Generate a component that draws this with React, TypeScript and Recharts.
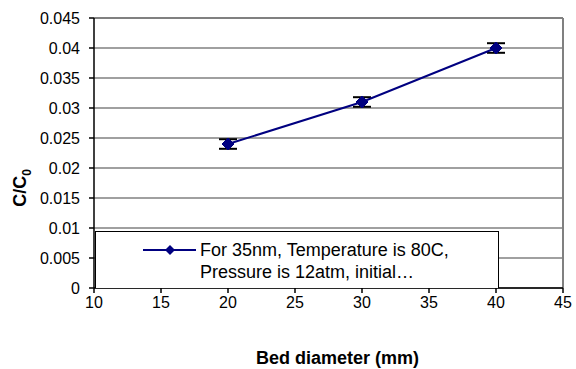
import * as React from 'react';
import {
  LineChart,
  Line,
  XAxis,
  YAxis,
  CartesianGrid,
  ErrorBar,
  ReferenceLine,
  Label,
} from 'recharts';

if (typeof document !== 'undefined') document.body.style.margin = '0';

const diameters = [20, 30, 40];
const ratios = [0.024, 0.031, 0.04];
const errors = [0.0008, 0.0008, 0.0008];
const xTicks = [10, 15, 20, 25, 30, 35, 40, 45];
const yTicks = [0, 0.005, 0.01, 0.015, 0.02, 0.025, 0.03, 0.035, 0.04, 0.045];
const seriesName = ['For 35nm, Temperature is 80C,', 'Pressure is 12atm, initial…'];

const data = diameters.map((d, i) => ({ d, v: ratios[i], err: errors[i] }));

const NAVY = '#000080';
const FONT = '"Liberation Sans", Arial, sans-serif';

function Diamond(props: any) {
  const { cx, cy } = props;
  if (cx == null || cy == null) return null;
  const r = 6;
  return (
    <path
      d={`M${cx},${cy - r}L${cx + r},${cy}L${cx},${cy + r}L${cx - r},${cy}Z`}
      fill={NAVY}
      stroke={NAVY}
    />
  );
}

function YTitle() {
  return (
    <text
      transform="translate(26,188) rotate(-90)"
      textAnchor="middle"
      fontFamily={FONT}
      fontWeight="bold"
      fontSize={18}
      fill="#000"
    >
      C/C
      <tspan fontSize={12} dy={5}>
        0
      </tspan>
    </text>
  );
}

// series legend, drawn over the lower part of the plot like the original
function LegendBox() {
  return (
    <div
      style={{
        position: 'absolute',
        left: 95,
        top: 231,
        width: 404,
        height: 57,
        border: '1px solid #000',
        borderBottom: 'none',
        background: '#fff',
        boxSizing: 'border-box',
        fontFamily: FONT,
        fontSize: 18,
        color: '#000',
      }}
    >
      <svg width={56} height={14} style={{ position: 'absolute', left: 46, top: 11 }}>
        <line x1={1} y1={7} x2={54} y2={7} stroke={NAVY} strokeWidth={2} />
        <path d="M28,2L33,7L28,12L23,7Z" fill={NAVY} />
      </svg>
      <div style={{ position: 'absolute', left: 104, top: 7, lineHeight: '22px', whiteSpace: 'nowrap' }}>
        {seriesName.map((s) => (
          <div key={s}>{s}</div>
        ))}
      </div>
    </div>
  );
}

export default function App() {
  return (
    <div style={{ width: 576, height: 369, background: '#fff', position: 'relative' }}>
      <LineChart
        width={576}
        height={369}
        data={data}
        margin={{ top: 18, right: 13, bottom: 51, left: 0 }}
      >
        <CartesianGrid vertical={false} stroke="#808080" strokeWidth={1.5} />
        <ReferenceLine y={0.045} stroke="#808080" strokeWidth={2} />
        <ReferenceLine x={45} stroke="#808080" strokeWidth={2} />
        <XAxis
          type="number"
          dataKey="d"
          domain={[10, 45]}
          ticks={xTicks}
          interval={0}
          stroke="#000"
          strokeWidth={1.5}
          tickSize={5}
          tickMargin={4}
          tick={{ fontSize: 16, fill: '#000', fontFamily: FONT }}
        >
          <Label
            value="Bed diameter (mm)"
            position="bottom"
            offset={33}
            dx={9}
            style={{ fontSize: 18, fontWeight: 'bold', fill: '#000', fontFamily: FONT }}
          />
        </XAxis>
        <YAxis
          type="number"
          domain={[0, 0.045]}
          ticks={yTicks}
          interval={0}
          width={94}
          stroke="#000"
          strokeWidth={1.5}
          tickSize={5}
          tickMargin={9}
          tick={{ fontSize: 16, fill: '#000', fontFamily: FONT }}
        >
          <Label content={<YTitle />} />
        </YAxis>
        <Line
          type="linear"
          dataKey="v"
          stroke={NAVY}
          strokeWidth={2}
          dot={<Diamond />}
          activeDot={false}
          isAnimationActive={false}
        >
          <ErrorBar dataKey="err" direction="y" width={9} stroke="#000" strokeWidth={2} />
        </Line>
      </LineChart>
      <LegendBox />
    </div>
  );
}
